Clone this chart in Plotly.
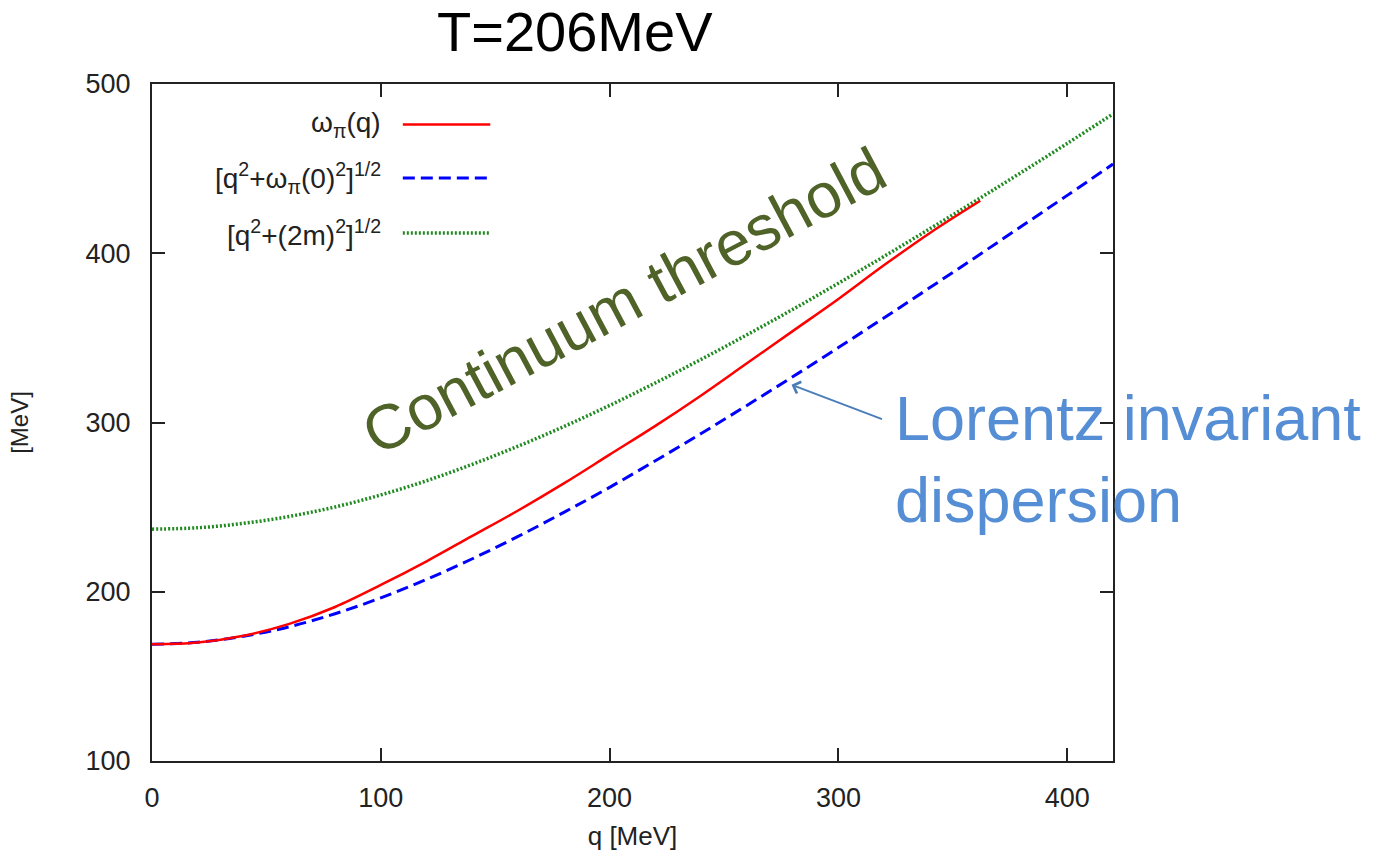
import plotly.graph_objects as go

# ---- data ----
q_red = [0, 20, 40, 60, 80, 100, 120, 140, 160, 180, 200, 220, 240, 260, 280, 300, 320, 340, 362]
omega_pi = [169, 170, 174, 181, 191, 204, 218, 233, 248, 264, 281, 298, 316, 335, 354, 373, 393, 412, 431]

q_all = [0, 20, 40, 60, 80, 100, 120, 140, 160, 180, 200, 220, 240, 260, 280, 300, 320, 340, 360, 380, 400, 420]
lorentz = [169.0, 170.2, 173.7, 179.3, 187.0, 196.4, 207.3, 219.5, 232.7, 246.9, 261.7, 277.4, 293.5,
           310.1, 327.0, 344.3, 361.9, 379.7, 397.7, 415.9, 434.2, 452.7]
continuum = [237.0, 237.8, 240.4, 244.5, 250.1, 257.2, 265.6, 275.3, 286.0, 297.6, 310.1, 323.4, 337.3,
             351.8, 366.8, 382.3, 398.2, 414.5, 431.0, 447.8, 464.9, 482.3]

legend_labels = ["ω<sub>π</sub>(q)",
                 "[q<sup>2</sup>+ω<sub>π</sub>(0)<sup>2</sup>]<sup>1/2</sup>",
                 "[q<sup>2</sup>+(2m)<sup>2</sup>]<sup>1/2</sup>"]
x_ticks = [0, 100, 200, 300, 400]
y_ticks = [100, 200, 300, 400, 500]

FONT = "Liberation Sans, Arial, Helvetica, sans-serif"
RED = "#ff0000"
BLUE = "#0000ff"
GREEN = "#1f8a1f"

fig = go.Figure()
fig.add_trace(go.Scatter(x=q_all, y=continuum, mode="lines", line=dict(color=GREEN, width=3.5, dash="2px,2px", shape="spline"), showlegend=False))
fig.add_trace(go.Scatter(x=q_all, y=lorentz, mode="lines", line=dict(color=BLUE, width=3, dash="12px,6px", shape="spline"), showlegend=False))
fig.add_trace(go.Scatter(x=q_red, y=omega_pi, mode="lines", line=dict(color=RED, width=2.5, shape="spline"), showlegend=False))

axis_common = dict(showline=True, linecolor="#222", linewidth=2, mirror="ticks", ticks="inside",
                   ticklen=13, tickwidth=2, tickcolor="#222", showgrid=False, zeroline=False,
                   tickfont=dict(family=FONT, size=27, color="#222"))
fig.update_xaxes(range=[0, 420], tickvals=x_ticks, ticklabelstandoff=12,
                 title=dict(text="q [MeV]", font=dict(family=FONT, size=26, color="#222"), standoff=14),
                 **axis_common)
fig.update_yaxes(range=[100, 500], tickvals=y_ticks, ticklabelstandoff=14,
                 title=dict(text="[MeV]", font=dict(family=FONT, size=24, color="#222"), standoff=50),
                 **axis_common)

# custom legend (text on the left, sample on the right, no box)
leg_y = [0.940, 0.861, 0.780]
leg_styles = [dict(color=RED, width=2.5), dict(color=BLUE, width=3, dash="12px,6px"), dict(color=GREEN, width=3.5, dash="2px,2px")]
for lab, yy, st in zip(legend_labels, leg_y, leg_styles):
    fig.add_annotation(x=0.240, y=yy, xref="paper", yref="paper", text=lab, showarrow=False,
                       xanchor="right", yanchor="middle", font=dict(family=FONT, size=28, color="#222"))
    fig.add_shape(type="line", xref="paper", yref="paper", x0=0.261, x1=0.352, y0=yy, y1=yy, line=st)

# title
fig.add_annotation(x=0.44, y=1.078, xref="paper", yref="paper", text="T=206MeV", showarrow=False,
                   xanchor="center", yanchor="middle", font=dict(family=FONT, size=56, color="#000"))

# overlay texts
fig.add_annotation(x=206.0, y=372, text="Continuum threshold", showarrow=False, textangle=-28,
                   font=dict(family=FONT, size=63, color="#4f6228"))
fig.add_annotation(x=324.0, y=278.5, text="Lorentz invariant<br>dispersion", showarrow=False,
                   xanchor="left", yanchor="middle", align="left",
                   font=dict(family=FONT, size=63, color="#558ed5"))
fig.add_annotation(x=279.5, y=322.3, ax=92, ay=35, text="", showarrow=True, arrowhead=4,
                   arrowsize=1.2, arrowwidth=2, arrowcolor="#4a7ebb")

fig.update_layout(width=1384, height=858, margin=dict(l=152, r=271, t=84, b=92),
                  paper_bgcolor="white", plot_bgcolor="white", showlegend=False)

fig.write_html("out.html")
